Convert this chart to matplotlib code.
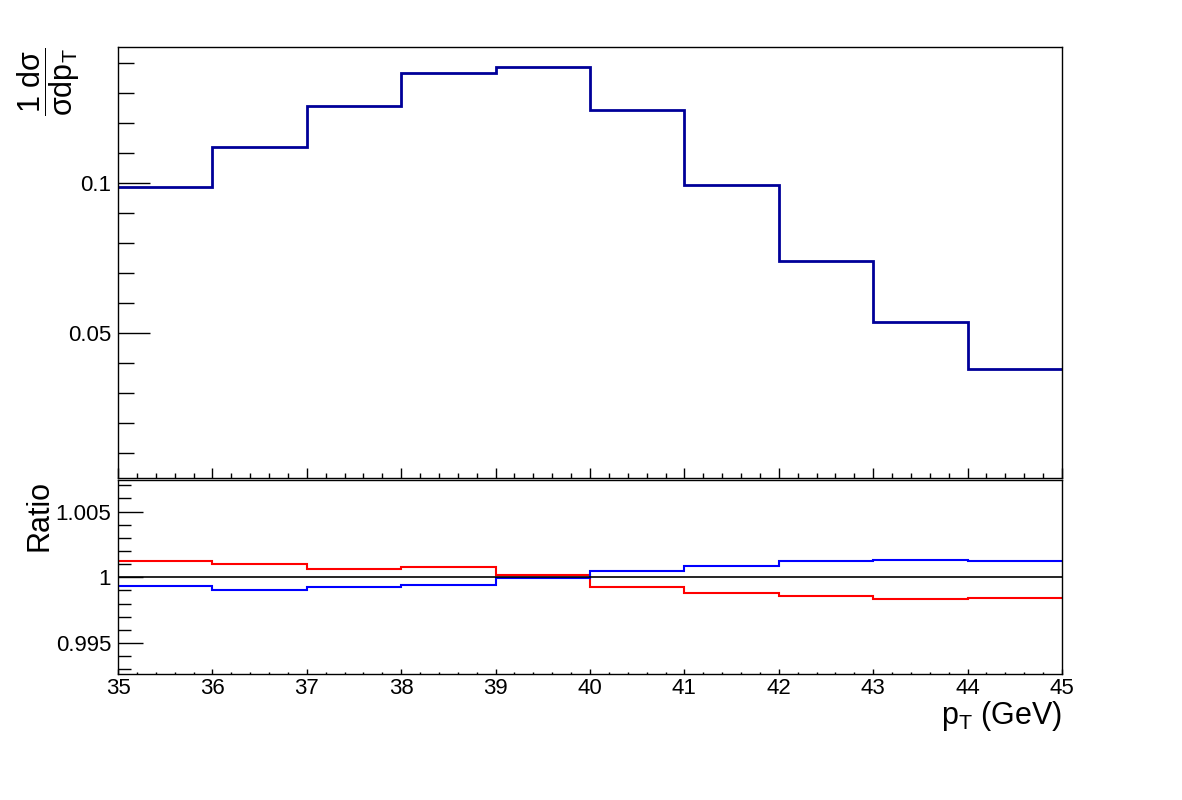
import matplotlib
matplotlib.use("Agg")
import matplotlib.pyplot as plt
from matplotlib.ticker import MultipleLocator, FuncFormatter
import numpy as np

plt.rcParams['font.family'] = ['Liberation Sans', 'DejaVu Sans']
plt.rcParams['mathtext.fontset'] = 'custom'
plt.rcParams['mathtext.rm'] = 'Liberation Sans'
plt.rcParams['mathtext.it'] = 'Liberation Sans'
plt.rcParams['mathtext.default'] = 'regular'

# ---- data ----
bin_edges = [35, 36, 37, 38, 39, 40, 41, 42, 43, 44, 45]
dist_values = [0.0987, 0.1120, 0.1256, 0.1365, 0.1385, 0.1243, 0.0992, 0.0740, 0.0536, 0.0380]
ratio_red = [1.00126, 1.00104, 1.00063, 1.00076, 1.00020, 0.99926, 0.99878, 0.99858, 0.99837, 0.99842]
ratio_blue = [0.99934, 0.99901, 0.99924, 0.99944, 0.99995, 1.00046, 1.00084, 1.00124, 1.00129, 1.00124]
xtick_labels = ['35', '36', '37', '38', '39', '40', '41', '42', '43', '44', '45']

W, H = 1182, 800
fig = plt.figure(figsize=(W / 100, H / 100), dpi=100)

def fx(px):
    return px / W

def fy(py):
    return 1 - py / H

ax1 = fig.add_axes([fx(118), fy(478), fx(1062) - fx(118), fy(46.7) - fy(478)])
ax2 = fig.add_axes([fx(118), fy(674), fx(1062) - fx(118), fy(480) - fy(674)])

fmt = FuncFormatter(lambda v, p: '%g' % round(v, 6))

# top panel
ax1.stairs(dist_values, bin_edges, color='#000099', lw=2.0, baseline=None)
ax1.set_xlim(35, 45)
ax1.set_ylim(0.00157, 0.14533)
ax1.yaxis.set_major_locator(MultipleLocator(0.05))
ax1.yaxis.set_minor_locator(MultipleLocator(0.01))
ax1.yaxis.set_major_formatter(fmt)
ax1.xaxis.set_major_locator(MultipleLocator(1))
ax1.xaxis.set_minor_locator(MultipleLocator(0.2))
ax1.tick_params(axis='y', which='major', direction='in', length=23, width=1.0,
                labelsize=16, pad=5, right=False, left=True)
ax1.tick_params(axis='y', which='minor', direction='in', length=11.5, width=1.0,
                right=False, left=True)
ax1.tick_params(axis='x', which='major', direction='in', length=7.2, width=1.0,
                labelbottom=False, top=False)
ax1.tick_params(axis='x', which='minor', direction='in', length=3.6, width=1.0, top=False)

# ratio panel
ax2.axhline(1.0, color='black', lw=1.2)
ax2.stairs(ratio_red, bin_edges, color='#ff0000', lw=1.5, baseline=None)
ax2.stairs(ratio_blue, bin_edges, color='#0000ff', lw=1.5, baseline=None)
ax2.set_xlim(35, 45)
ax2.set_ylim(0.99264, 1.0074)
ax2.yaxis.set_major_locator(MultipleLocator(0.005))
ax2.yaxis.set_minor_locator(MultipleLocator(0.001))
ax2.yaxis.set_major_formatter(fmt)
ax2.set_xticks(bin_edges)
ax2.set_xticklabels(xtick_labels)
ax2.xaxis.set_minor_locator(MultipleLocator(0.2))
ax2.tick_params(axis='y', which='major', direction='in', length=18, width=1.0,
                labelsize=16, pad=5, right=False)
ax2.tick_params(axis='y', which='minor', direction='in', length=9.4, width=1.0, right=False)
ax2.tick_params(axis='x', which='major', direction='in', length=3.6, width=1.0,
                labelsize=16, pad=3, top=False)
ax2.tick_params(axis='x', which='minor', direction='in', length=1.8, width=1.0, top=False)

for ax in (ax1, ax2):
    for s in ax.spines.values():
        s.set_linewidth(1.0)
        s.set_color('black')

# axis titles
fig.text(fx(49), fy(47), r'$\dfrac{1\ d\sigma}{\sigma dp_{T}}$', rotation=90,
         ha='center', va='top', fontsize=22)
fig.text(fx(40), fy(480), 'Ratio', rotation=90, ha='center', va='top', fontsize=22)
fig.text(fx(1062), fy(724), r'p$_{T}$ (GeV)', ha='right', va='baseline', fontsize=22)

fig.savefig('out.png', dpi=100, facecolor='white')
